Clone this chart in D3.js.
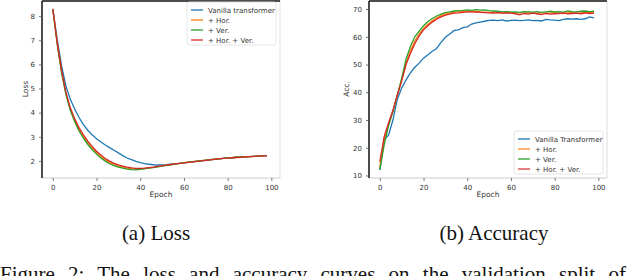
<!DOCTYPE html>
<html>
<head>
<meta charset="utf-8">
<script src="https://cdn.jsdelivr.net/npm/d3@7"></script>
<style>
  body { margin: 0; background: #fff; }
  svg { display: block; }
  .tick text { font-family: "DejaVu Sans", sans-serif; font-size: 7px; fill: #333; }
  .lbl { font-family: "DejaVu Sans", sans-serif; font-size: 7.5px; fill: #333; }
  .leg { font-family: "DejaVu Sans", sans-serif; font-size: 7px; fill: #333; }
  .cap { font-family: "Liberation Serif", "Times New Roman", serif; font-size: 21px; fill: #111; }
</style>
</head>
<body>
<div id="chart"></div>
<script>
// epochs sampled every 2
var epochs = d3.range(0, 100, 2);
var seriesNames = ["Vanilla Transformer", "+ Hor.", "+ Ver.", "+ Hor. + Ver."];
var lossNames = ["Vanilla transformer", "+ Hor.", "+ Ver.", "+ Hor. + Ver."];
var colors = ["#1f77b4", "#ff7f0e", "#2ca02c", "#d62728"];

var lossVanilla = [8.30, 7.05, 5.95, 5.10, 4.55, 4.15, 3.80, 3.50, 3.27, 3.08, 2.92, 2.78, 2.66, 2.55, 2.44, 2.33, 2.22, 2.12, 2.05, 1.98,
  1.93, 1.89, 1.86, 1.84, 1.83, 1.83, 1.84, 1.86, 1.88, 1.90, 1.92, 1.94, 1.96, 1.98, 2.00, 2.02, 2.04, 2.06, 2.08, 2.10,
  2.12, 2.13, 2.15, 2.16, 2.17, 2.18, 2.19, 2.20, 2.21, 2.22];
var lossHor = [8.30, 6.88, 5.70, 4.80, 4.15, 3.68, 3.30, 3.00, 2.74, 2.53, 2.33, 2.17, 2.04, 1.93, 1.85, 1.78, 1.74, 1.70, 1.67, 1.66,
  1.67, 1.69, 1.71, 1.73, 1.76, 1.79, 1.82, 1.85, 1.88, 1.90, 1.93, 1.95, 1.97, 1.99, 2.01, 2.03, 2.05, 2.07, 2.09, 2.10,
  2.12, 2.13, 2.15, 2.16, 2.17, 2.18, 2.19, 2.20, 2.21, 2.22];
var lossVer = [8.30, 6.85, 5.65, 4.75, 4.10, 3.62, 3.24, 2.94, 2.68, 2.47, 2.28, 2.12, 1.99, 1.88, 1.80, 1.74, 1.70, 1.66, 1.64, 1.63,
  1.65, 1.67, 1.70, 1.72, 1.75, 1.78, 1.81, 1.84, 1.87, 1.90, 1.92, 1.95, 1.97, 1.99, 2.01, 2.03, 2.05, 2.07, 2.08, 2.10,
  2.12, 2.13, 2.15, 2.16, 2.17, 2.18, 2.19, 2.20, 2.21, 2.22];
var lossHorVer = [8.30, 6.90, 5.75, 4.85, 4.20, 3.75, 3.38, 3.08, 2.82, 2.60, 2.40, 2.24, 2.10, 1.99, 1.90, 1.83, 1.78, 1.74, 1.71, 1.69,
  1.69, 1.70, 1.72, 1.74, 1.77, 1.79, 1.82, 1.85, 1.88, 1.90, 1.92, 1.94, 1.96, 1.98, 2.00, 2.02, 2.04, 2.06, 2.08, 2.10,
  2.11, 2.13, 2.14, 2.15, 2.17, 2.18, 2.19, 2.20, 2.21, 2.22];

var accVanilla = [12, 23, 24.5, 30, 37.5, 41.5, 44.5, 47, 49, 50.5, 52.3, 53.5, 54.8, 55.8, 58, 59.8, 61, 62.3, 62.5, 63.3,
  63.6, 64.6, 65, 65.3, 65.6, 65.9, 66, 65.8, 66.1, 65.7, 65.9, 66, 65.8, 65.9, 66.1, 65.8, 65.9, 65.7, 66.3, 66.1,
  66.0, 65.8, 66.3, 66.5, 66.4, 66.5, 66.3, 66.5, 67.2, 66.8];
var accHor = [13, 23, 28.5, 33, 39, 44.5, 50.5, 55, 58.5, 61, 63, 64.5, 65.8, 66.8, 67.6, 68.2, 68.6, 68.9, 69.0, 69.1,
  69.2, 69.1, 69.2, 69.0, 68.9, 68.8, 68.9, 68.7, 68.8, 68.7, 68.8, 68.6, 68.7, 68.5, 68.7, 68.6, 68.4, 68.7, 68.5, 68.6,
  68.8, 68.5, 68.4, 68.6, 68.7, 68.5, 68.6, 68.8, 68.7, 68.6];
var accVer = [12, 21, 28, 33, 39, 45, 52, 56.5, 60, 62, 64, 65.5, 66.6, 67.5, 68.2, 68.7, 69.0, 69.3, 69.4, 69.5,
  69.7, 69.5, 69.8, 69.6, 69.7, 69.4, 69.3, 69.2, 69.0, 69.1, 68.9, 69.0, 68.8, 69.1, 69.0, 68.9, 69.1, 68.8, 69.0, 69.2,
  69.0, 69.1, 68.9, 69.3, 69.1, 69.0, 69.2, 69.3, 69.1, 69.2];
var accHorVer = [15, 24, 29, 33.5, 39, 44, 50, 54, 57.5, 60.3, 62.5, 64, 65.3, 66.3, 67.2, 67.8, 68.2, 68.5, 68.6, 68.8,
  69.0, 69.0, 68.9, 68.8, 68.7, 68.6, 68.5, 68.7, 68.5, 68.6, 68.5, 68.3, 67.9, 68.4, 68.2, 68.5, 68.3, 68.0, 68.4, 68.2,
  68.3, 68.4, 68.6, 68.3, 68.4, 68.5, 68.3, 68.6, 68.4, 68.5];

var xTicks = [0, 20, 40, 60, 80, 100];
var lossTicks = [2, 3, 4, 5, 6, 7, 8];
var accTicks = [10, 20, 30, 40, 50, 60, 70];

var W = 640, H = 276;
var svg = d3.select("#chart").append("svg").attr("width", W).attr("height", H);

function panel(opt) {
  var x = d3.scaleLinear().domain([-4.95, 103.95]).range([opt.left, opt.left + 238]);
  var y = d3.scaleLinear().domain(opt.yDomain).range([178, 1]);
  var g = svg.append("g");

  // lines
  var line = d3.line().x(function (d) { return x(d[0]); }).y(function (d) { return y(d[1]); });
  opt.series.forEach(function (s, i) {
    g.append("path")
      .datum(epochs.map(function (e, j) { return [e, s[j]]; }))
      .attr("fill", "none")
      .attr("stroke", colors[i])
      .attr("stroke-width", 1.3)
      .attr("d", line);
  });

  // spines
  g.append("line").attr("x1", opt.left + 238).attr("x2", opt.left + 238).attr("y1", 1).attr("y2", 178).attr("stroke", "#ddd");
  g.append("line").attr("x1", opt.left).attr("x2", opt.left + 238).attr("y1", 178).attr("y2", 178).attr("stroke", "#ccc");
  g.append("line").attr("x1", opt.left).attr("x2", opt.left + 238).attr("y1", 1).attr("y2", 1).attr("stroke", "#111").attr("stroke-width", 1.3);
  g.append("line").attr("x1", opt.left).attr("x2", opt.left).attr("y1", 1).attr("y2", 178).attr("stroke", "#111").attr("stroke-width", 1.5);

  // axes
  var ax = g.append("g").attr("transform", "translate(0,178)")
    .call(d3.axisBottom(x).tickValues(xTicks).tickSize(3).tickPadding(4));
  var ay = g.append("g").attr("transform", "translate(" + opt.left + ",0)")
    .call(d3.axisLeft(y).tickValues(opt.yTicks).tickSize(3).tickPadding(4));
  ax.select(".domain").remove();
  ay.select(".domain").remove();
  g.selectAll(".tick line").attr("stroke", "#555").attr("stroke-width", 0.8);

  g.append("text").attr("class", "lbl").attr("text-anchor", "middle")
    .attr("x", opt.left + 119).attr("y", 197).text("Epoch");
  g.append("text").attr("class", "lbl").attr("text-anchor", "middle")
    .attr("transform", "translate(" + (opt.left - opt.labOff) + ",89) rotate(-90)").text(opt.yLabel);

  // legend
  var lg = g.append("g").attr("transform", "translate(" + opt.legX + "," + opt.legY + ")");
  lg.append("rect").attr("width", 89).attr("height", 43).attr("rx", 2)
    .attr("fill", "#fff").attr("fill-opacity", 0.85).attr("stroke", "#ddd").attr("stroke-width", 0.8);
  opt.names.forEach(function (n, i) {
    var yy = 8 + i * 10;
    lg.append("line").attr("x1", 4).attr("x2", 16).attr("y1", yy).attr("y2", yy)
      .attr("stroke", colors[i])
      .attr("stroke-width", opt.softLeg && (i === 1 || i === 3) ? 2 : 1.3)
      .attr("stroke-opacity", opt.softLeg && (i === 1 || i === 3) ? 0.6 : 1);
    lg.append("text").attr("class", "leg").attr("x", 21).attr("y", yy + 2.5).text(n);
  });
}

panel({ left: 42, yDomain: [1.29, 8.63], yTicks: lossTicks, yLabel: "Loss", labOff: 14,
  series: [lossVanilla, lossHor, lossVer, lossHorVer], names: lossNames, legX: 187, legY: 2 });
panel({ left: 369, yDomain: [9.1, 72.9], yTicks: accTicks, yLabel: "Acc.", labOff: 20,
  series: [accVanilla, accHor, accVer, accHorVer], names: seriesNames, legX: 514, legY: 131, softLeg: true });

svg.append("text").attr("class", "cap").attr("text-anchor", "middle").attr("x", 156).attr("y", 240).text("(a) Loss");
svg.append("text").attr("class", "cap").attr("text-anchor", "middle").attr("x", 494).attr("y", 240).text("(b) Accuracy");
svg.append("text").attr("class", "cap").attr("x", 0).attr("y", 281).attr("word-spacing", 8)
  .text("Figure 2:  The loss and accuracy curves on the validation split of");
</script>
</body>
</html>
